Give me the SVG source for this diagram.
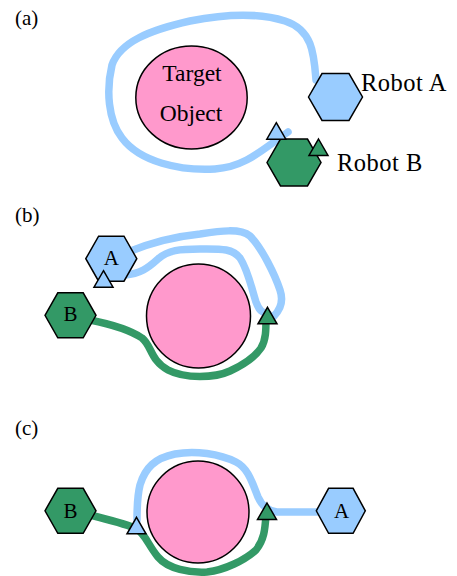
<svg xmlns="http://www.w3.org/2000/svg" width="457" height="576" viewBox="0 0 457 576">
  <style>
    .lbl { font-family: "Liberation Serif", "Times New Roman", serif; fill: #000; }
    .panel { font-size: 21px; }
    .big { font-size: 23.5px; }
    .robot { font-size: 24.5px; letter-spacing: 0.5px; }
    .mid { font-size: 21px; text-anchor: middle; }
    .obj { fill: #FF99CC; stroke: #000; stroke-width: 1.5; }
    .robA { fill: #99CCFF; stroke: #000; stroke-width: 1.5; stroke-linejoin: miter; }
    .robB { fill: #339966; stroke: #000; stroke-width: 1.5; stroke-linejoin: miter; }
    .pathA { fill: none; stroke: #99CCFF; stroke-width: 7.5; stroke-linecap: round; stroke-linejoin: round; }
    .pathB { fill: none; stroke: #339966; stroke-width: 7.5; stroke-linecap: round; stroke-linejoin: round; }
  </style>

  <!-- panel captions -->
  <g id="captions" class="lbl panel">
    <text x="15" y="24.5">(a)</text>
    <text x="15" y="222">(b)</text>
    <text x="15" y="435">(c)</text>
  </g>

  <!-- target objects -->
  <g id="object-a">
    <ellipse class="obj" cx="191.5" cy="97.5" rx="55.7" ry="51.5"/>
    <text class="lbl big" x="192" y="80.5" text-anchor="middle">Target</text>
    <text class="lbl big" x="191" y="120.5" text-anchor="middle">Object</text>
  </g>
  <g id="object-b">
    <circle class="obj" cx="198.5" cy="316" r="52"/>
  </g>
  <g id="object-c">
    <circle class="obj" cx="198" cy="512" r="51"/>
  </g>

  <!-- travelled routes -->
  <g id="connectors">
    <path class="pathA" d="M316,80 C314,55 313,30 285,21 C260,13 225,14 190,21 C150,30 120,42 112,65 C106,90 108,120 122,138 C140,162 180,171 215,169 C245,167 262,150 288,132"/>
    <path class="pathA" d="M128,252 C150,243 170,237 200,234 C220,231 240,228 250,236 C262,248 275,275 280,290 C284,302 280,310 274,316"/>
    <path class="pathA" d="M125,275 C140,274 148,268 158,259 C168,250 180,249 200,249 C220,249 232,248 240,258 C248,270 252,290 256,302 C259,310 262,313 268,314"/>
    <path class="pathB" d="M90,320 C110,324 130,330 142,338 C152,346 150,360 168,370 C185,379 215,378 230,371 C245,364 255,357 261,348 C266,340 266,330 266,318"/>
    <path class="pathA" d="M318,512 L277,512 C268,511 262,506 258,497 C252,482 248,468 236,462 C220,454 195,450 175,454 C155,458 145,468 140,485 C137,497 137,508 137,520"/>
    <path class="pathB" d="M90,515 C110,520 125,524 135,528 C145,533 148,545 158,557 C168,569 190,573 207,572 C225,570 245,560 256,550 C264,540 265,530 266,515"/>
  </g>

  <!-- panel (a) robots -->
  <g id="robot-a-a">
    <polygon class="robA" points="308.5,97 322,73.6 349,73.6 362.5,97 349,120.4 322,120.4"/>
    <text class="lbl robot" x="361" y="91">Robot A</text>
  </g>
  <g id="robot-b-a">
    <polygon class="robB" points="267,162.5 280.5,139.1 307.5,139.1 321,162.5 307.5,185.9 280.5,185.9"/>
    <text class="lbl robot" x="337" y="170.5">Robot B</text>
  </g>
  <g id="end-a-a">
    <polygon class="robA" points="276.3,122.7 285.8,139.2 266.8,139.2"/>
  </g>
  <g id="end-b-a">
    <polygon class="robB" points="318.5,139 328,155.5 309,155.5"/>
  </g>

  <!-- panel (b) robots -->
  <g id="robot-a-b">
    <polygon class="robA" points="85.8,258.7 98.6,236.2 124,236.2 136.8,258.7 124,281.2 98.6,281.2"/>
    <text class="lbl mid" x="111.3" y="265">A</text>
  </g>
  <g id="robot-b-b">
    <polygon class="robB" points="45,315.3 57.8,292.8 83.2,292.8 96,315.3 83.2,337.8 57.8,337.8"/>
    <text class="lbl mid" x="70.5" y="321">B</text>
  </g>
  <g id="end-a-b">
    <polygon class="robA" points="103.5,270.7 113,287.2 94,287.2"/>
  </g>
  <g id="end-b-b">
    <polygon class="robB" points="267.5,307.3 277,323.8 258,323.8"/>
  </g>

  <!-- panel (c) robots -->
  <g id="robot-b-c">
    <polygon class="robB" points="45,510.8 57.8,488.3 83.2,488.3 96,510.8 83.2,533.3 57.8,533.3"/>
    <text class="lbl mid" x="70.5" y="518.3">B</text>
  </g>
  <g id="robot-a-c">
    <polygon class="robA" points="316.3,510.8 328.6,488.3 353.1,488.3 365.3,510.8 353.1,533.3 328.6,533.3"/>
    <text class="lbl mid" x="341.5" y="517.7">A</text>
  </g>
  <g id="end-a-c">
    <polygon class="robA" points="136.5,517.3 146,533.8 127,533.8"/>
  </g>
  <g id="end-b-c">
    <polygon class="robB" points="267,503 276.5,519.5 257.5,519.5"/>
  </g>
</svg>
